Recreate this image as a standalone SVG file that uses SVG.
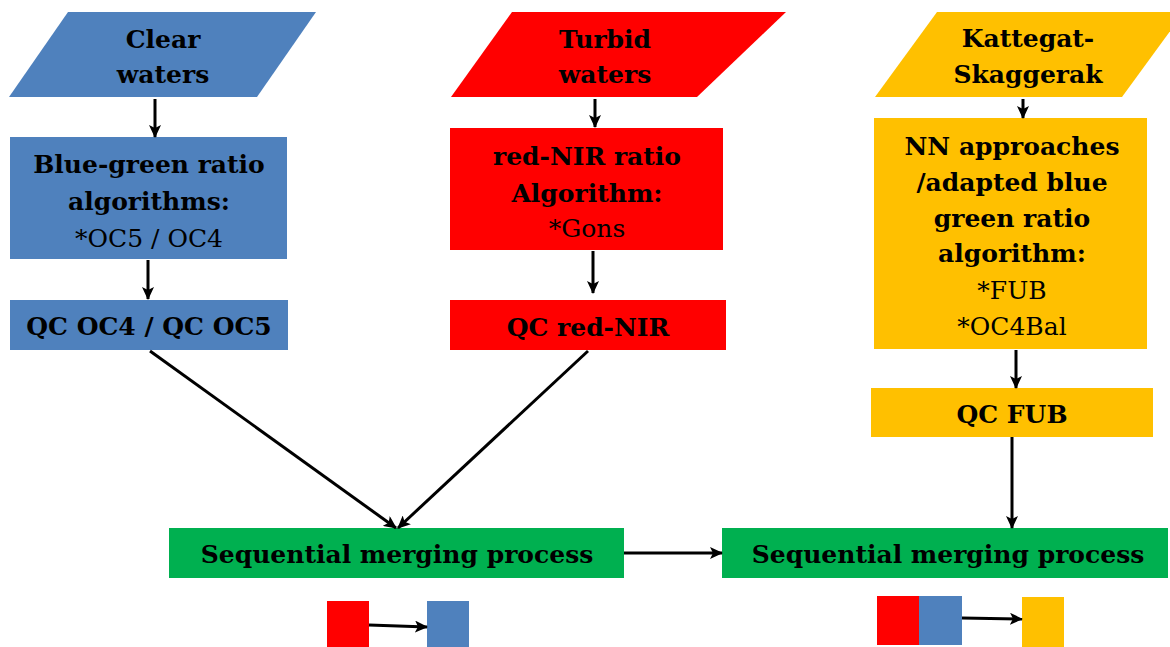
<svg xmlns="http://www.w3.org/2000/svg" width="1170" height="647" viewBox="0 0 1170 647">
<defs>
<marker id="ah" markerWidth="13" markerHeight="12" refX="12" refY="6" orient="auto" markerUnits="userSpaceOnUse">
<path d="M0,0 L13,6 L0,12 L3,6 Z" fill="#000"/>
</marker>
<style>
text{font-family:"DejaVu Serif","Liberation Serif",serif;font-size:25px;fill:#000;text-anchor:middle}
.b{font-weight:bold}
.r{font-weight:normal}
.blue{fill:#4F81BD}
.red{fill:#FF0000}
.org{fill:#FFC000}
.grn{fill:#00B050}
.c{stroke:#000;stroke-width:3;fill:none;marker-end:url(#ah)}
</style>
</defs>
<rect width="1170" height="647" fill="#fff"/>
<g id="clear">
<polygon class="blue" points="68,12 316,12 257,97 9,97"/>
<text class="b" x="163" y="48">Clear</text>
<text class="b" x="163" y="83">waters</text>
</g>
<g id="turbid">
<polygon class="red" points="512,12 786,12 697,97 451,97"/>
<text class="b" x="605" y="48">Turbid</text>
<text class="b" x="605" y="83">waters</text>
</g>
<g id="kattegat">
<polygon class="org" points="937,12 1184,12 1122,97 875,97"/>
<text class="b" x="1028" y="47">Kattegat-</text>
<text class="b" x="1028" y="83">Skaggerak</text>
</g>
<g id="bluegreen">
<rect class="blue" x="10" y="137" width="277" height="122"/>
<text class="b" x="149" y="173">Blue-green ratio</text>
<text class="b" x="149" y="210">algorithms:</text>
<text class="r" x="149" y="247">*OC5 / OC4</text>
</g>
<g id="rednir">
<rect class="red" x="450" y="128" width="273" height="122"/>
<text class="b" x="587" y="165">red-NIR ratio</text>
<text class="b" x="587" y="202">Algorithm:</text>
<text class="r" x="587" y="237">*Gons</text>
</g>
<g id="nn">
<rect class="org" x="874" y="118" width="273" height="231"/>
<text class="b" x="1012" y="155">NN approaches</text>
<text class="b" x="1012" y="191">/adapted blue</text>
<text class="b" x="1012" y="227">green ratio</text>
<text class="b" x="1012" y="262">algorithm:</text>
<text class="r" x="1012" y="299">*FUB</text>
<text class="r" x="1012" y="335">*OC4Bal</text>
</g>
<g id="qcoc">
<rect class="blue" x="10" y="300" width="278" height="50"/>
<text class="b" x="149" y="335">QC OC4 / QC OC5</text>
</g>
<g id="qcrednir">
<rect class="red" x="450" y="300" width="276" height="50"/>
<text class="b" x="588" y="336">QC red-NIR</text>
</g>
<g id="qcfub">
<rect class="org" x="871" y="388" width="282" height="49"/>
<text class="b" x="1012" y="423">QC FUB</text>
</g>
<g id="merge1">
<rect class="grn" x="169" y="528" width="455" height="50"/>
<text class="b" x="397" y="563">Sequential merging process</text>
</g>
<g id="merge2">
<rect class="grn" x="722" y="528" width="446" height="50"/>
<text class="b" x="948" y="563">Sequential merging process</text>
</g>
<g id="legend1">
<rect class="red" x="327" y="601" width="42" height="46"/>
<rect class="blue" x="427" y="601" width="42" height="46"/>
</g>
<g id="legend2">
<rect class="red" x="877" y="596" width="42" height="49"/>
<rect class="blue" x="919" y="596" width="43" height="49"/>
<rect class="org" x="1022" y="597" width="42" height="50"/>
</g>
<g id="connectors">
<line class="c" x1="155" y1="99" x2="155" y2="137"/>
<line class="c" x1="595" y1="99" x2="595" y2="127"/>
<line class="c" x1="1023" y1="99" x2="1023" y2="118"/>
<line class="c" x1="148" y1="260" x2="148" y2="299"/>
<line class="c" x1="593" y1="251" x2="593" y2="293"/>
<line class="c" x1="1016" y1="350" x2="1016" y2="388"/>
<line class="c" x1="150" y1="351" x2="396" y2="528"/>
<line class="c" x1="588" y1="351" x2="398" y2="528"/>
<line class="c" x1="1012" y1="437" x2="1012" y2="528"/>
<line class="c" x1="624" y1="553" x2="722" y2="553"/>
<line class="c" x1="369" y1="625" x2="427" y2="627"/>
<line class="c" x1="962" y1="618" x2="1022" y2="619"/>
</g>
</svg>
